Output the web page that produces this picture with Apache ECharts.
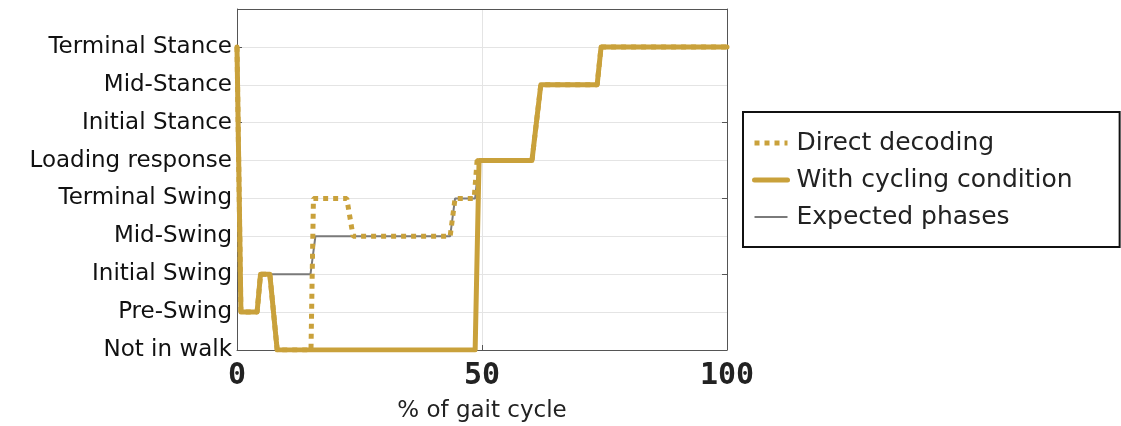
<!DOCTYPE html>
<html>
<head>
<meta charset="utf-8">
<script src="https://cdn.jsdelivr.net/npm/echarts@6/dist/echarts.min.js"></script>
<style>html,body{margin:0;padding:0;background:#fff}#c{width:1121px;height:426px}</style>
</head>
<body>
<div id="c"></div>
<script>
var phaseLabels = ['Not in walk','Pre-Swing','Initial Swing','Mid-Swing','Terminal Swing','Loading response','Initial Stance','Mid-Stance','Terminal Stance'];
var xTicks = [0, 50, 100];
var directDecoding = [[0,8],[0.8,1],[4.1,1],[4.8,2],[6.7,2],[8.2,0],[15.1,0],[15.6,4],[22.4,4],[23.7,3],[43.5,3],[44.5,4],[48.4,4],[49.0,5],[60.2,5],[62.0,7],[73.5,7],[74.3,8],[100,8]];
var withCycling = [[0,8],[0.8,1],[4.1,1],[4.8,2],[6.7,2],[8.2,0],[48.6,0],[49.4,5],[60.2,5],[62.0,7],[73.5,7],[74.3,8],[100,8]];
var expectedPhases = [[0,8],[0.8,1],[4.1,1],[4.8,2],[15.0,2],[16.0,3],[43.5,3],[44.5,4],[48.6,4],[49.4,5],[60.2,5],[62.0,7],[73.5,7],[74.3,8],[100,8]];

var gold = '#c9a13b';
var gray = '#7a7a7a';
var chart = echarts.init(document.getElementById('c'), null, {renderer:'canvas'});
chart.setOption({
  animation: false,
  backgroundColor: '#fff',
  grid: {left: 237, right: 394, top: 9, bottom: 76, containLabel: false, outerBoundsMode: 'none'},
  legend: {
    orient: 'vertical', left: 743, top: 112,
    data: [
      {name: 'Direct decoding', itemStyle: {opacity: 0}, lineStyle: {color: gold, width: 5, type: [5,5]}},
      {name: 'With cycling condition', itemStyle: {opacity: 0}, lineStyle: {color: gold, width: 5, type: 'solid'}},
      {name: 'Expected phases', itemStyle: {opacity: 0}, lineStyle: {color: gray, width: 2, type: 'solid'}}
    ],
    itemWidth: 33, itemHeight: 14, itemGap: 9,
    padding: [17, 47, 16, 9],
    borderColor: '#111', borderWidth: 2, backgroundColor: '#fff',
    textStyle: {fontFamily: 'DejaVu Sans', fontSize: 25, color: '#222', lineHeight: 28, padding: [0,0,0,4]}
  },
  xAxis: {
    type: 'value', min: 0, max: 100, interval: 50,
    name: '% of gait cycle', nameLocation: 'middle', nameGap: 50,
    nameTextStyle: {fontFamily: 'DejaVu Sans', fontSize: 23, color: '#222'},
    axisLine: {show: true, onZero: false, lineStyle: {color: '#555', width: 1}},
    axisTick: {show: true, inside: true, length: 5, lineStyle: {color: '#555'}},
    axisLabel: {fontFamily: 'DejaVu Sans Mono', fontWeight: 'bold', fontSize: 30, color: '#222', margin: 11,
      formatter: function(v){ return xTicks.indexOf(v) >= 0 ? String(v) : ''; }},
    splitLine: {show: true, lineStyle: {color: '#e4e4e4', width: 1}}
  },
  yAxis: [{
    type: 'value', min: 0, max: 9, interval: 1,
    axisLine: {show: true, lineStyle: {color: '#555', width: 1}},
    axisTick: {show: false},
    axisLabel: {fontFamily: 'DejaVu Sans', fontSize: 23, color: '#111', margin: 5,
      formatter: function(v){ return phaseLabels[v] || ''; }},
    splitLine: {show: true, lineStyle: {color: '#e4e4e4', width: 1}}
  },{
    type: 'value', min: 0, max: 9, interval: 2, position: 'left',
    axisLine: {show: false},
    axisTick: {show: true, inside: true, length: 5, lineStyle: {color: '#555'}},
    axisLabel: {show: false},
    splitLine: {show: false}
  },{
    type: 'value', min: 0, max: 9, interval: 2, position: 'right',
    axisLine: {show: true, lineStyle: {color: '#555', width: 1}},
    axisTick: {show: true, inside: true, length: 5, lineStyle: {color: '#555'}},
    axisLabel: {show: false},
    splitLine: {show: false}
  }],
  series: [{
    name: 'Expected phases', type: 'line', data: expectedPhases, symbol: 'none', z: 1,
    lineStyle: {color: gray, width: 2}, itemStyle: {color: gray}
  },{
    name: 'Direct decoding', type: 'line', data: directDecoding, symbol: 'none', z: 2,
    lineStyle: {color: gold, width: 5, type: [5,5], cap: 'butt'}, itemStyle: {color: gold}
  },{
    name: 'With cycling condition', type: 'line', data: withCycling, symbol: 'none', z: 3,
    lineStyle: {color: gold, width: 5, join: 'round', cap: 'round'}, itemStyle: {color: gold}
  }],
  graphic: [{type: 'line', shape: {x1: 237, y1: 9.5, x2: 727, y2: 9.5}, style: {stroke: '#555', lineWidth: 1}, z: 10}]
});
</script>
</body>
</html>
